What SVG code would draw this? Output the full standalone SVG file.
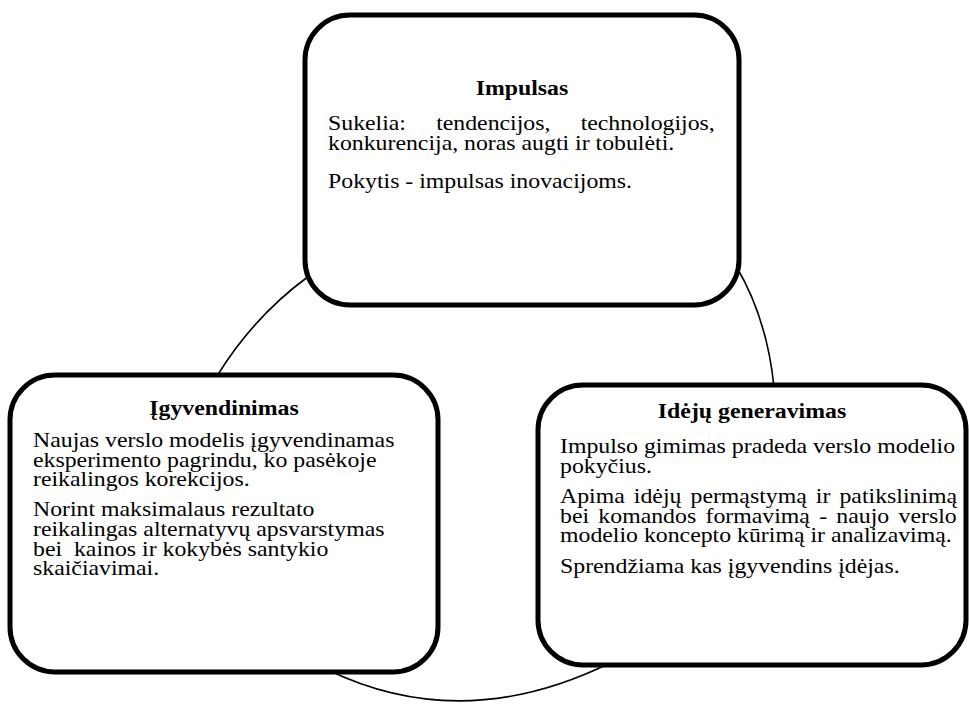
<svg xmlns="http://www.w3.org/2000/svg" width="969" height="705" viewBox="0 0 969 705">
<style>
.box{fill:#fff;stroke:#000;stroke-width:5}
.con{fill:none;stroke:#000;stroke-width:1.6}
text{font-family:"Liberation Serif","Times New Roman","DejaVu Serif",serif;font-size:22px;fill:#000}
.ttl{font-weight:bold;text-anchor:middle}
</style>
<rect width="969" height="705" fill="#fff"/>
<g id="connectors">
<path class="con" d="M 309 276 Q 254 316 217 376"/>
<path class="con" d="M 736 266 Q 767 318 774 387"/>
<path class="con" d="M 328 670 Q 463 735 610 663"/>
</g>
<g id="impulsas">
<rect class="box" x="305" y="15" width="434" height="290" rx="45" ry="45"/>
<text class="ttl" transform="matrix(1.082 0 0 1 522 0)" x="0" y="95">Impulsas</text>
<text transform="matrix(1.082 0 0 1 328 0)" x="0" y="130" style="word-spacing:22.4px">Sukelia: tendencijos, technologijos,</text>
<text transform="matrix(1.082 0 0 1 328 0)" x="0" y="150">konkurencija, noras augti ir tobulėti.</text>
<text transform="matrix(1.082 0 0 1 328 0)" x="0" y="188">Pokytis - impulsas inovacijoms.</text>
</g>
<g id="igyvendinimas">
<rect class="box" x="10" y="375" width="428" height="297" rx="45" ry="45"/>
<text class="ttl" transform="matrix(1.082 0 0 1 224 0)" x="0" y="415">Įgyvendinimas</text>
<text transform="matrix(1.082 0 0 1 33 0)" x="0" y="447">Naujas verslo modelis įgyvendinamas</text>
<text transform="matrix(1.082 0 0 1 33 0)" x="0" y="467">eksperimento pagrindu, ko pasėkoje</text>
<text transform="matrix(1.082 0 0 1 33 0)" x="0" y="486">reikalingos korekcijos.</text>
<text transform="matrix(1.082 0 0 1 33 0)" x="0" y="516">Norint maksimalaus rezultato</text>
<text transform="matrix(1.082 0 0 1 33 0)" x="0" y="536">reikalingas alternatyvų apsvarstymas</text>
<text transform="matrix(1.082 0 0 1 33 0)" x="0" y="556" xml:space="preserve">bei  kainos ir kokybės santykio</text>
<text transform="matrix(1.082 0 0 1 33 0)" x="0" y="575">skaičiavimai.</text>
</g>
<g id="ideju-generavimas">
<rect class="box" x="538" y="385" width="428" height="280" rx="45" ry="45"/>
<text class="ttl" transform="matrix(1.082 0 0 1 752 0)" x="0" y="418">Idėjų generavimas</text>
<text transform="matrix(1.082 0 0 1 560 0)" x="0" y="453">Impulso gimimas pradeda verslo modelio</text>
<text transform="matrix(1.082 0 0 1 560 0)" x="0" y="473">pokyčius.</text>
<text transform="matrix(1.082 0 0 1 560 0)" x="0" y="503" style="word-spacing:2.9px">Apima idėjų permąstymą ir patikslinimą</text>
<text transform="matrix(1.082 0 0 1 560 0)" x="0" y="523" style="word-spacing:3.1px">bei komandos formavimą - naujo verslo</text>
<text transform="matrix(1.082 0 0 1 560 0)" x="0" y="542">modelio koncepto kūrimą ir analizavimą.</text>
<text transform="matrix(1.082 0 0 1 560 0)" x="0" y="573">Sprendžiama kas įgyvendins įdėjas.</text>
</g>
</svg>
